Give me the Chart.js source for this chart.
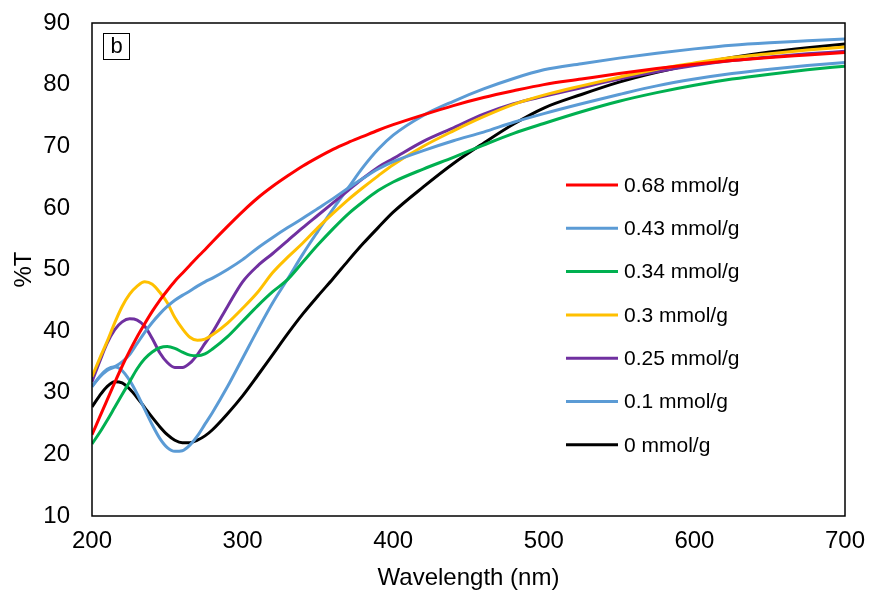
<!DOCTYPE html>
<html>
<head>
<meta charset="utf-8">
<script src="https://cdn.jsdelivr.net/npm/chart.js@4.4.1/dist/chart.umd.min.js"></script>
<style>
html,body{margin:0;padding:0;background:#fff;}
#wrap{width:870px;height:596px;position:relative;}
</style>
</head>
<body>
<div id="wrap"><canvas id="c" width="870" height="596"></canvas></div>
<script>
const wavelengths = [200,205,210,215,220,225,230,235,240,245,250,255,260,265,270,275,280,290,300,310,320,330,340,350,360,370,380,390,400,420,440,460,480,500,525,550,575,600,625,650,675,700];
const s068 = [23.2,26,28.8,31.6,34.3,36.8,39.1,41.2,43.2,45,46.6,48.1,49.4,50.7,52,53.2,54.5,57,59.4,61.6,63.5,65.2,66.8,68.2,69.5,70.6,71.6,72.6,73.5,75.1,76.6,77.9,79,80,80.9,81.8,82.6,83.3,83.9,84.4,84.8,85.2];
const s043 = [31,32.5,33.6,34.2,35,36.2,38,39.8,41.4,42.8,44,45,45.8,46.5,47.3,48,48.6,50,51.6,53.5,55.2,56.8,58.3,59.9,61.5,63.2,64.8,66.3,67.5,69.3,70.9,72.3,73.9,75.3,76.9,78.4,79.8,80.9,81.8,82.5,83.1,83.6];
const s034 = [21.7,23.5,25.5,27.6,29.7,31.8,33.9,35.5,36.6,37.3,37.5,37.2,36.6,36.1,36,36.3,37.1,39.1,41.6,44.1,46.4,48.4,51.2,54,56.6,59,61,62.8,64.2,66.3,68.2,70.2,72.1,73.7,75.6,77.3,78.7,79.9,80.9,81.7,82.4,83];
const s030 = [32.6,35.5,38.3,41.3,44,46,47.3,48,47.6,46.3,44.6,42.2,40.4,39,38.5,38.7,39.4,41.3,43.7,46.3,49.5,52,54.3,56.8,59.1,61.3,63.3,65.2,67,70,72.5,74.8,76.8,78.3,79.8,81.2,82.5,83.5,84.4,85,85.6,86.1];
const s025 = [31.8,35,38,40.2,41.5,42,41.8,40.8,38.8,36.5,34.9,34.1,34.1,34.8,36.2,38,39.8,44,48,50.6,52.6,54.7,56.8,58.8,60.8,62.8,64.8,66.6,68,70.8,73,75.2,76.9,78.1,79.5,80.9,82.1,83.1,83.9,84.5,85,85.4];
const s010 = [31,32.6,33.8,34.2,33.6,32,29.8,27.3,24.8,22.6,21.1,20.5,20.6,21.5,23,24.9,26.8,31,35.6,40.2,44.6,48.5,52.5,56.2,59.8,63.2,66.6,69.5,71.8,75,77.3,79.3,81,82.4,83.4,84.3,85.1,85.8,86.4,86.8,87.1,87.4];
const s000 = [27.7,29.5,31,31.8,31.6,30.6,29.2,27.6,26,24.5,23.2,22.3,21.9,21.9,22.3,23,24,26.6,29.5,32.8,36.2,39.6,42.8,45.7,48.5,51.4,54.2,56.8,59.3,63.4,67.2,70.5,73.6,76.2,78.4,80.4,82,83.3,84.4,85.3,86,86.6];
const seriesLabels = ["0.68 mmol/g","0.43 mmol/g","0.34 mmol/g","0.3 mmol/g","0.25 mmol/g","0.1 mmol/g","0 mmol/g"];
const seriesColors = ["#FF0000","#5B9BD5","#00B050","#FFC000","#7030A0","#5B9BD5","#000000"];
const seriesValues = [s068,s043,s034,s030,s025,s010,s000];
const xTicks = [200,300,400,500,600,700];
const yTicks = [10,20,30,40,50,60,70,80,90];
const panelLabel = "b";

const FONT = "'Liberation Sans', Arial, sans-serif";

const datasets = seriesValues.map((vals, i) => ({
  label: seriesLabels[i],
  data: wavelengths.map((w, j) => ({x: w, y: vals[j]})),
  borderColor: seriesColors[i],
  backgroundColor: seriesColors[i],
  borderWidth: 3,
  pointRadius: 0,
  fill: false,
  cubicInterpolationMode: 'monotone'
}));

const framePlugin = {
  id: 'frame',
  afterDraw(chart) {
    const ctx = chart.ctx, a = chart.chartArea;
    ctx.save();
    ctx.strokeStyle = '#000';
    ctx.lineWidth = 1.5;
    ctx.strokeRect(a.left, a.top, a.right - a.left, a.bottom - a.top);
    // panel label box
    ctx.lineWidth = 1;
    ctx.strokeRect(103.5, 33.5, 26, 26);
    ctx.fillStyle = '#000';
    ctx.font = "22px " + FONT;
    ctx.textAlign = 'center';
    ctx.textBaseline = 'middle';
    ctx.fillText(panelLabel, 116.5, 46.5);
    // legend
    ctx.font = "21px " + FONT;
    ctx.textAlign = 'left';
    chart.data.datasets.forEach((ds, i) => {
      const y = 185 + i * 43.3;
      ctx.strokeStyle = ds.borderColor;
      ctx.lineWidth = 3;
      ctx.beginPath();
      ctx.moveTo(566, y);
      ctx.lineTo(618, y);
      ctx.stroke();
      ctx.fillStyle = '#000';
      ctx.fillText(ds.label, 624, y + 1);
    });
    ctx.restore();
  }
};

new Chart(document.getElementById('c'), {
  type: 'line',
  data: { datasets },
  plugins: [framePlugin],
  options: {
    responsive: false,
    animation: false,
    layout: { padding: { top: 23, right: 25, left: 0, bottom: 0 } },
    plugins: { legend: { display: false }, tooltip: { enabled: false } },
    scales: {
      x: {
        type: 'linear', min: 200, max: 700,
        afterBuildTicks: s => { s.ticks = xTicks.map(v => ({value: v})); },
        grid: { display: false, drawTicks: false },
        border: { display: false },
        ticks: { padding: 11, color: '#000', font: { family: FONT, size: 24 }, maxRotation: 0 },
        title: { display: true, text: 'Wavelength (nm)', color: '#000', font: { family: FONT, size: 24 }, padding: { top: 0, bottom: 3.5 } },
        afterFit: s => { s.height = 80; s.paddingLeft = 0; s.paddingRight = 0; }
      },
      y: {
        type: 'linear', min: 10, max: 90,
        afterBuildTicks: s => { s.ticks = yTicks.map(v => ({value: v})); },
        grid: { display: false, drawTicks: false },
        border: { display: false },
        ticks: { padding: 22, color: '#000', font: { family: FONT, size: 24 } },
        title: { display: true, text: '%T', color: '#000', font: { family: FONT, size: 24 }, padding: { top: 10, bottom: 0 } },
        afterFit: s => { s.width = 92; s.paddingTop = 0; s.paddingBottom = 0; }
      }
    }
  }
});
</script>
</body>
</html>
